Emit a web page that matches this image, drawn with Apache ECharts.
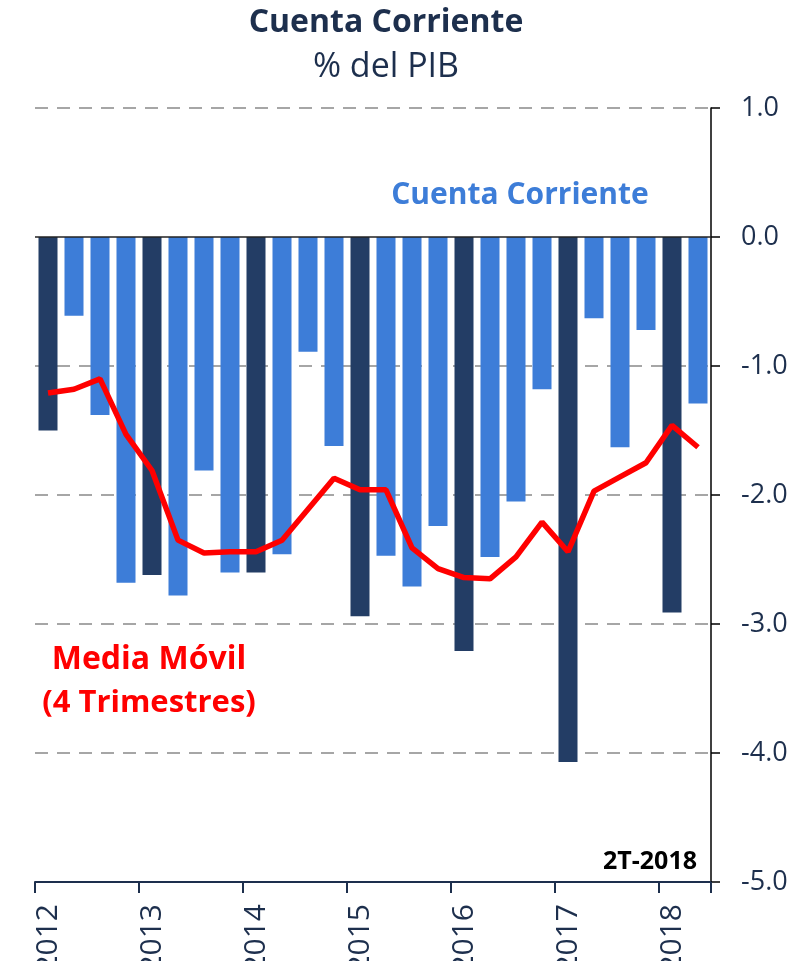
<!DOCTYPE html>
<html>
<head>
<meta charset="utf-8">
<style>
  html, body { margin: 0; padding: 0; background: #ffffff; }
  #chart { width: 796px; height: 961px; }
</style>
<script src="https://cdn.jsdelivr.net/npm/echarts@6/dist/echarts.min.js"></script>
</head>
<body>
<div id="chart"></div>
<script>
// trimestres 1T-2012 ... 2T-2018
const categories = [
  '1T-2012', '2T-2012', '3T-2012', '4T-2012',
  '1T-2013', '2T-2013', '3T-2013', '4T-2013',
  '1T-2014', '2T-2014', '3T-2014', '4T-2014',
  '1T-2015', '2T-2015', '3T-2015', '4T-2015',
  '1T-2016', '2T-2016', '3T-2016', '4T-2016',
  '1T-2017', '2T-2017', '3T-2017', '4T-2017',
  '1T-2018', '2T-2018',
];
// cuenta corriente trimestral, % del PIB
const cuentaCorriente = [
  -1.50, -0.61, -1.38, -2.68,
  -2.62, -2.78, -1.81, -2.60,
  -2.60, -2.46, -0.89, -1.62,
  -2.94, -2.47, -2.71, -2.24,
  -3.21, -2.48, -2.05, -1.18,
  -4.07, -0.63, -1.63, -0.72,
  -2.91, -1.29,
];
// media móvil 4 trimestres
const mediaMovil = [
  -1.21, -1.18, -1.10, -1.53,
  -1.81, -2.35, -2.45, -2.44,
  -2.44, -2.35, -2.11, -1.87,
  -1.96, -1.96, -2.41, -2.57,
  -2.64, -2.65, -2.48, -2.21,
  -2.44, -1.97, -1.86, -1.75,
  -1.46, -1.63,
];
const yTicks = [-5, -4, -3, -2, -1, 0, 1];

// colores
const navy = '#1d2f4d';
const darkBar = '#233d65';
const lightBar = '#3d7dd8';
const gridGray = '#a6a6a6';
const fontFamily = '"Open Sans", "Noto Sans", sans-serif';

const myChart = echarts.init(document.getElementById('chart'));

// líneas de la cuadrícula: sin línea en -5 ni en 0 (esa la pone el markLine)
const splitColors = yTicks.map(v => (v === -5 || v === 0) ? 'rgba(0,0,0,0)' : gridGray);

const option = {
  animation: false,
  grid: { left: 35, right: 85, top: 108, bottom: 79, containLabel: false, outerBoundsMode: 'none' },
  xAxis: {
    type: 'category',
    data: categories,
    position: 'bottom',
    axisLine: { onZero: false, lineStyle: { color: navy, width: 2 } },
    axisTick: { show: true, interval: 3, length: 11, lineStyle: { color: navy, width: 2 } },
    axisLabel: {
      interval: 3,
      rotate: 90,
      margin: 22,
      padding: [22, 0, 0, 0],
      color: navy,
      fontFamily: fontFamily,
      fontSize: 30,
      formatter: (v) => v.split('-')[1],
    },
    splitLine: { show: false },
  },
  yAxis: {
    type: 'value',
    position: 'right',
    min: -5,
    max: 1,
    interval: 1,
    axisLine: { show: true, lineStyle: { color: '#000000', width: 1.5 } },
    axisTick: { show: true, length: 9, lineStyle: { color: '#000000', width: 1.5 } },
    axisLabel: {
      margin: 30,
      color: navy,
      fontFamily: fontFamily,
      fontSize: 27,
      formatter: (v) => v.toFixed(1),
    },
    splitLine: {
      show: true,
      lineStyle: { color: splitColors, type: [13, 9], width: 2 },
    },
  },
  series: [
    {
      type: 'bar',
      data: cuentaCorriente,
      barWidth: 19,
      itemStyle: {
        color: (p) => (p.dataIndex % 4 === 0 ? darkBar : lightBar),
      },
      markLine: {
        silent: true,
        symbol: ['none', 'none'],
        label: { show: false },
        lineStyle: { color: '#222222', type: 'solid', width: 1.5 },
        data: [{ yAxis: 0 }],
      },
      z: 2,
    },
    {
      type: 'line',
      data: mediaMovil,
      symbol: 'none',
      lineStyle: { color: '#ff0000', width: 5.5 },
      z: 3,
    },
  ],
  graphic: [
    {
      type: 'text', x: 386, y: 23,
      style: { text: 'Cuenta Corriente', fill: navy, font: 'bold 32px ' + fontFamily, textAlign: 'center', textVerticalAlign: 'middle' },
    },
    {
      type: 'text', x: 386, y: 67,
      style: { text: '% del PIB', fill: navy, font: '34px ' + fontFamily, textAlign: 'center', textVerticalAlign: 'middle' },
    },
    {
      type: 'text', x: 520, y: 195,
      style: { text: 'Cuenta Corriente', fill: lightBar, font: 'bold 30px ' + fontFamily, textAlign: 'center', textVerticalAlign: 'middle' },
    },
    {
      type: 'text', x: 149, y: 660,
      style: { text: 'Media Móvil', fill: '#ff0000', font: 'bold 32px ' + fontFamily, textAlign: 'center', textVerticalAlign: 'middle' },
    },
    {
      type: 'text', x: 149, y: 703,
      style: { text: '(4 Trimestres)', fill: '#ff0000', font: 'bold 31px ' + fontFamily, textAlign: 'center', textVerticalAlign: 'middle' },
    },
    {
      type: 'text', x: 697, y: 862,
      style: { text: '2T-2018', fill: '#000000', font: 'bold 25px ' + fontFamily, textAlign: 'right', textVerticalAlign: 'middle' },
    },
  ],
};

myChart.setOption(option);
</script>
</body>
</html>
